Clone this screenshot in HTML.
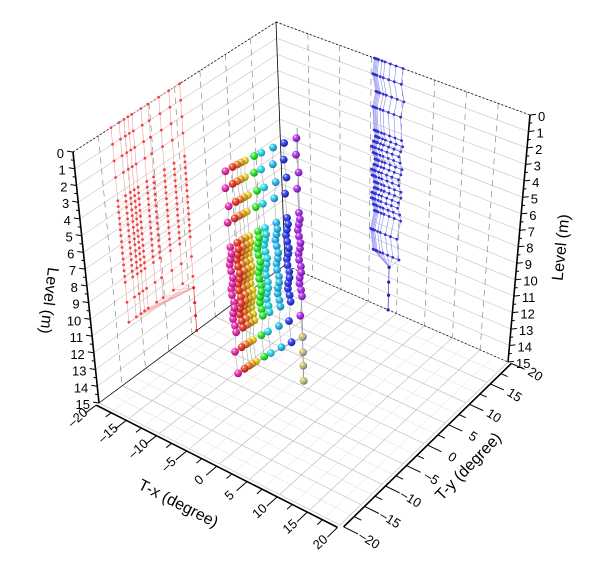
<!DOCTYPE html>
<html><head><meta charset="utf-8">
<style>
html,body{margin:0;padding:0;background:#fff;}
svg{display:block;font-family:"Liberation Sans",sans-serif;}
</style></head>
<body>
<svg id="s" width="600" height="570" viewBox="0 0 600 570" xmlns="http://www.w3.org/2000/svg">
<defs id="d"></defs>
</svg>
<script>
var T={L:[73,152],B:[276,22],R:[530,115],F:[327,250]};
var Bt={L:[99,403],B:[285,265],R:[508,362],F:[340,525]};
function bil(c,X,Y){var u=(X+20)/40,v=(Y+20)/40;
var a=(1-u)*(1-v),b=(1-u)*v,r=u*v,f=u*(1-v);
return [a*c.L[0]+b*c.B[0]+r*c.R[0]+f*c.F[0],a*c.L[1]+b*c.B[1]+r*c.R[1]+f*c.F[1]];}
function P(X,Y,Z){var p=bil(T,X,Y),q=bil(Bt,X,Y),w=Z/15;return [p[0]+(q[0]-p[0])*w,p[1]+(q[1]-p[1])*w];}
var out=[];
function ln(a,b,st){out.push('<line x1="'+a[0].toFixed(1)+'" y1="'+a[1].toFixed(1)+'" x2="'+b[0].toFixed(1)+'" y2="'+b[1].toFixed(1)+'" '+st+'/>');}
function tx(p,s,st){out.push('<text x="'+p[0].toFixed(1)+'" y="'+p[1].toFixed(1)+'" '+st+'>'+s+'</text>');}
var z,i;
for(i=-20;i<=20;i+=2.5){var maj=(i%5===0);
 var st=maj?'stroke="#b8b8b8" stroke-width="0.6"':'stroke="#dcdcdc" stroke-width="0.5"';
 ln(P(i,-20,15),P(i,20,15),st);ln(P(-20,i,15),P(20,i,15),st);}
for(z=0;z<=15;z++) ln(P(-20,-20,z),P(-20,20,z),'stroke="#c4c4c4" stroke-width="0.6"');
for(i=-15;i<=15;i+=5) ln(P(-20,i,0),P(-20,i,15),'stroke="#777" stroke-width="0.6" stroke-dasharray="6,5"');
for(z=0;z<=15;z++) ln(P(-20,20,z),P(20,20,z),'stroke="#c4c4c4" stroke-width="0.6"');
for(i=-15;i<=15;i+=5) ln(P(i,20,0),P(i,20,15),'stroke="#777" stroke-width="0.6" stroke-dasharray="6,5"');
ln(P(-20,-20,0),P(-20,20,0),'stroke="#000" stroke-width="0.8" stroke-dasharray="2,2"');
ln(P(-20,20,0),P(20,20,0),'stroke="#000" stroke-width="0.8" stroke-dasharray="2,2"');
ln(P(-20,20,0),P(-20,20,15),'stroke="#000" stroke-width="0.8"');
ln(P(-20,-20,15),P(-20,20,15),'stroke="#000" stroke-width="0.7"');
ln(P(-20,20,15),P(20,20,15),'stroke="#000" stroke-width="0.7" stroke-dasharray="2,2"');
var levels=[0,1,2,3];
for(z=4.4;z<=9.3;z+=0.35) levels.push(z);
levels.push(10.5,11.7);
var ts=[0,.116,.188,.246,.304,.435,.536,.696,.841,1];
var hues=[320,5,25,40,55,120,185,195,235,280];
function pt(t,z,k){var Y=-12.5+13.5*t;var X=-4.5+4.5*Math.pow(t,1.6)-0.3*Math.sin(z*1.3+k);return [X,Y];}
function bp(t,z,k){var Y=-12.5+11.5*t;var X=-2+2*Math.pow(t,1.6)-0.2*Math.sin(z*1.3+k);return [X,Y];}
var pts=[],bpts=[];
levels.forEach(function(zz,li){var row=[],row2=[];ts.forEach(function(t,k){var q=pt(t,zz,li);row.push([q[0],q[1],zz,k]);var r=bp(t,zz,li);row2.push([r[0],r[1],zz,k]);});pts.push(row);bpts.push(row2);});
var tail=[[-1.5,1,12.4],[-1.5,1,13.3],[-1.5,1,14.1],[-1.5,1,15]];
var k;
for(k=0;k<ts.length;k++){var pl=[];pts.forEach(function(r){pl.push(P(-20,r[k][1],r[k][2]));});
 out.push('<polyline points="'+pl.map(function(p){return p[0].toFixed(1)+','+p[1].toFixed(1)}).join(' ')+'" fill="none" stroke="#f3a0a0" stroke-width="0.6"/>');}
pts.forEach(function(r){ln(P(-20,r[0][1],r[0][2]),P(-20,r[9][1],r[9][2]),'stroke="#f6b8b8" stroke-width="0.5"');});
var lr=pts[pts.length-1];
lr.forEach(function(q){ln(P(-20,q[1],q[2]),P(-20,1,12.4),'stroke="#f3a0a0" stroke-width="0.5"');});
ln(P(-20,1,12.4),P(-20,1,15),'stroke="#d33" stroke-width="0.7"');
pts.forEach(function(r){r.forEach(function(q){var p=P(-20,q[1],q[2]);out.push('<circle cx="'+p[0].toFixed(1)+'" cy="'+p[1].toFixed(1)+'" r="1.4" fill="#e44"/>');});});
tail.forEach(function(q){var p=P(-20,q[1],q[2]);out.push('<circle cx="'+p[0].toFixed(1)+'" cy="'+p[1].toFixed(1)+'" r="1.5" fill="#d22"/>');});
for(k=0;k<ts.length;k++){var pl2=[];pts.forEach(function(r){pl2.push(P(r[k][0],20,r[k][2]));});
 out.push('<polyline points="'+pl2.map(function(p){return p[0].toFixed(1)+','+p[1].toFixed(1)}).join(' ')+'" fill="none" stroke="#8a8af0" stroke-width="0.6"/>');}
pts.forEach(function(r){ln(P(r[0][0],20,r[0][2]),P(r[9][0],20,r[9][2]),'stroke="#5555dd" stroke-width="0.8"');});
lr.forEach(function(q){ln(P(q[0],20,q[2]),P(-1.5,20,12.4),'stroke="#8a8af0" stroke-width="0.5"');});
ln(P(-1.5,20,12.4),P(-1.5,20,15),'stroke="#33c" stroke-width="0.7"');
pts.forEach(function(r){r.forEach(function(q){var p=P(q[0],20,q[2]);out.push('<circle cx="'+p[0].toFixed(1)+'" cy="'+p[1].toFixed(1)+'" r="1.4" fill="#3333cc"/>');});});
tail.forEach(function(q){var p=P(q[0],20,q[2]);out.push('<circle cx="'+p[0].toFixed(1)+'" cy="'+p[1].toFixed(1)+'" r="1.6" fill="#2222bb"/>');});
ln(P(-1.5,1,0),P(-1.5,1,15),'stroke="#888" stroke-width="0.8"');
for(k=0;k<ts.length;k++){var pl3=[];bpts.forEach(function(r){pl3.push(P(r[k][0],r[k][1],r[k][2]));});
 out.push('<polyline points="'+pl3.map(function(p){return p[0].toFixed(1)+','+p[1].toFixed(1)}).join(' ')+'" fill="none" stroke="#aaa" stroke-width="0.6"/>');}
var blr=bpts[bpts.length-1];
blr.forEach(function(q){ln(P(q[0],q[1],q[2]),P(-1.5,1,12.4),'stroke="#b0a0c0" stroke-width="0.5" stroke-dasharray="1.5,1"');});
var defs='';
hues.forEach(function(h,k){defs+='<radialGradient id="g'+k+'" cx="0.35" cy="0.3" r="0.75"><stop offset="0" stop-color="#fff"/><stop offset="0.25" stop-color="hsl('+h+',95%,65%)"/><stop offset="1" stop-color="hsl('+h+',90%,32%)"/></radialGradient>';});
defs+='<radialGradient id="gt" cx="0.35" cy="0.3" r="0.75"><stop offset="0" stop-color="#fff"/><stop offset="0.3" stop-color="#e0c060"/><stop offset="0.6" stop-color="#a0c080"/><stop offset="1" stop-color="#804090"/></radialGradient>';
document.getElementById('d').innerHTML=defs;
var balls=[];bpts.forEach(function(r){r.forEach(function(q){balls.push(q);});});
balls.sort(function(a,b){return (a[0]-a[1])-(b[0]-b[1])||b[2]-a[2];});
balls.forEach(function(q){var p=P(q[0],q[1],q[2]);out.push('<circle cx="'+p[0].toFixed(1)+'" cy="'+p[1].toFixed(1)+'" r="3.9" fill="url(#g'+q[3]+')"/>');});
tail.forEach(function(q){var p=P(q[0],q[1],q[2]);out.push('<circle cx="'+p[0].toFixed(1)+'" cy="'+p[1].toFixed(1)+'" r="3.9" fill="url(#gt)"/>');});
ln(P(-20,-20,0),P(-20,-20,15),'stroke="#000" stroke-width="1.6"');
ln(P(20,20,0),P(20,20,15),'stroke="#000" stroke-width="1.6"');
ln(P(-20,-20.6,15),P(20,-20.6,15),'stroke="#000" stroke-width="1.6"');
ln(P(20.6,-20,15),P(20.6,20,15),'stroke="#000" stroke-width="1.6"');
var fs='font-size="13" fill="#000"';
for(z=0;z<=15;z+=0.5){var a=P(-20,-20,z),b=P(20,20,z),m=(z%1===0);var L=m?6:3;
 ln(a,[a[0]-L,a[1]-L*0.15],'stroke="#000" stroke-width="1"');
 ln(b,[b[0]+L,b[1]-L*0.1],'stroke="#000" stroke-width="1"');
 if(m){tx([a[0]-9,a[1]+6],z,fs+' text-anchor="end"');tx([b[0]+8,b[1]+6],z,fs);}}
for(i=-20;i<=20;i+=2.5){var m2=(i%5===0);
 var a2=P(i,-20.6,15),e=P(i,m2?-23:-21.8,15);ln(a2,e,'stroke="#000" stroke-width="1"');
 var b2=P(20.6,i,15),e2=P(m2?23:21.8,i,15);ln(b2,e2,'stroke="#000" stroke-width="1"');
 if(m2){var c=P(i,-24,15);c[1]+=4;out.push('<text x="'+c[0].toFixed(1)+'" y="'+c[1].toFixed(1)+'" '+fs+' text-anchor="middle" transform="rotate(-42 '+c[0].toFixed(1)+' '+c[1].toFixed(1)+')">'+(i<0?'&#8211;'+(-i):i)+'</text>');
 var c2=P(24.5,i,15);c2[1]+=5;out.push('<text x="'+c2[0].toFixed(1)+'" y="'+c2[1].toFixed(1)+'" '+fs+' text-anchor="middle" transform="rotate(32 '+c2[0].toFixed(1)+' '+c2[1].toFixed(1)+')">'+(i<0?'&#8211;'+(-i):i)+'</text>');}}
var ts2='font-size="16" fill="#000" text-anchor="middle"';
out.push('<text x="176" y="508" '+ts2+' transform="rotate(27 176 508)">T-x (degree)</text>');
out.push('<text x="472" y="470" '+ts2+' transform="rotate(-46 472 470)">T-y (degree)</text>');
out.push('<text x="44" y="300" '+ts2+' transform="rotate(97 44 300)">Level (m)</text>');
out.push('<text x="566" y="248" '+ts2+' transform="rotate(-84 566 248)">Level (m)</text>');
document.getElementById('s').insertAdjacentHTML('beforeend',out.join(''));
</script>
</body></html>
